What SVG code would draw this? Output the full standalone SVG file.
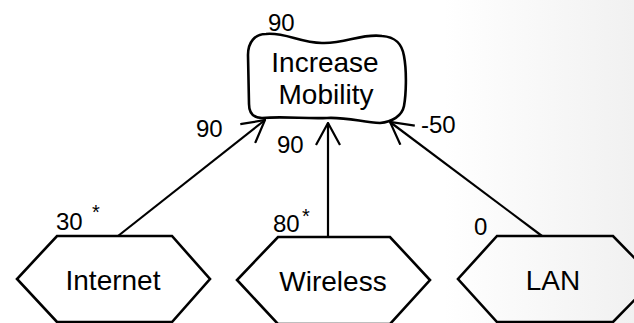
<svg xmlns="http://www.w3.org/2000/svg" width="634" height="323" viewBox="0 0 634 323">
  <defs>
    <linearGradient id="bg" x1="0" y1="0" x2="1" y2="0">
      <stop offset="0" stop-color="#ffffff"/>
      <stop offset="0.7" stop-color="#ffffff"/>
      <stop offset="1" stop-color="#f1f1f1"/>
    </linearGradient>
    <marker id="open" viewBox="0 0 26 26" refX="25" refY="13" markerWidth="26" markerHeight="26" markerUnits="userSpaceOnUse" orient="auto">
      <path d="M3,1 L25,13 L3,25" fill="none" stroke="#000" stroke-width="2.2"/>
    </marker>
    <style>
      .shape { fill: #ffffff; stroke: #000; stroke-width: 2.6; stroke-linejoin: round; }
      .hex { fill: none; stroke: #000; stroke-width: 2.6; }
      .link { fill: none; stroke: #000; stroke-width: 2.2; marker-end: url(#open); }
      .name { font-family: "Liberation Sans", Arial, sans-serif; font-size: 28px; fill: #000; text-anchor: middle; }
      .val { font-family: "Liberation Sans", Arial, sans-serif; font-size: 24px; fill: #000; }
      .star { font-family: "Liberation Sans", Arial, sans-serif; font-size: 20px; fill: #000; }
    </style>
  </defs>

  <rect x="0" y="0" width="634" height="323" fill="url(#bg)"/>

  <!-- contributions into the soft goal -->
  <g id="connectors">
    <line class="link" x1="118" y1="236" x2="265" y2="120"/>
    <line class="link" x1="328" y1="237" x2="328" y2="123"/>
    <line class="link" x1="542" y1="236" x2="390" y2="122"/>
    <text class="val" x="196" y="137">90</text>
    <text class="val" x="277" y="153">90</text>
    <text class="val" x="421" y="133">-50</text>
  </g>

  <!-- soft goal -->
  <g id="increase-mobility">
    <path class="shape" d="M266,34 C285,32 300,43 322,43 C345,44 362,33 382,36 C396,37 402,44 404,56 C407,72 406,95 404,106 C402,116 392,122 380,123 C362,122 346,117 327,118 C305,119 285,116 262,118 C252,118 249,112 249,104 L248,55 C248,42 255,34 266,34 Z"/>
    <text class="name" x="325" y="72">Increase</text>
    <text class="name" x="326" y="104">Mobility</text>
    <text class="val" x="268" y="31">90</text>
  </g>

  <!-- tasks -->
  <g id="internet">
    <polygon class="hex" points="57,236 172,236 210,279 172,322 57,322 17,279"/>
    <text class="name" x="113" y="290">Internet</text>
    <text class="val" x="56" y="230">30</text>
    <text class="star" x="92" y="219">*</text>
  </g>

  <g id="wireless">
    <polygon class="hex" points="278,237 390,237 430,280 390,324 278,324 237,280"/>
    <text class="name" x="333" y="291">Wireless</text>
    <text class="val" x="273" y="232">80</text>
    <text class="star" x="302" y="223">*</text>
  </g>

  <g id="lan">
    <polygon class="hex" points="497,236 613,236 655,279 613,322 497,322 458,279"/>
    <text class="name" x="553" y="290">LAN</text>
    <text class="val" x="474" y="235">0</text>
  </g>
</svg>
